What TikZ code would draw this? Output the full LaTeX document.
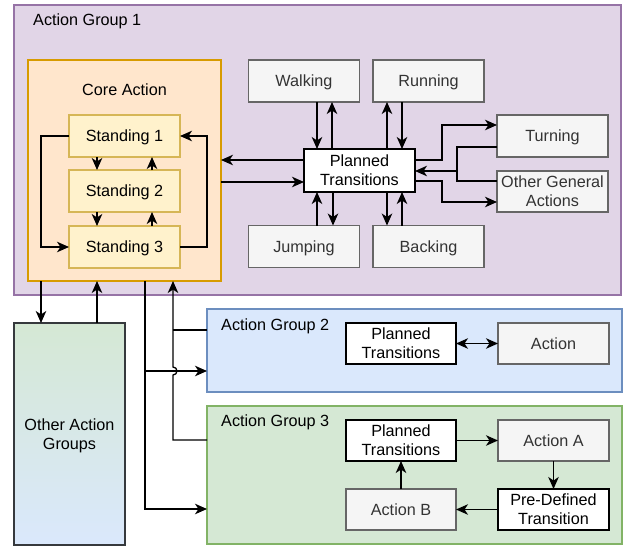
\documentclass[tikz,border=0pt]{standalone}
\usepackage{fontspec}
\setmainfont{Liberation Sans}
\usetikzlibrary{arrows.meta}

\definecolor{grpAfill}{HTML}{E1D5E7}
\definecolor{grpAline}{HTML}{9673A6}
\definecolor{corefill}{HTML}{FFE6CC}
\definecolor{coreline}{HTML}{D79B00}
\definecolor{standfill}{HTML}{FFF2CC}
\definecolor{standline}{HTML}{D6B656}
\definecolor{actfill}{HTML}{F5F5F5}
\definecolor{actline}{HTML}{666666}
\definecolor{acttext}{HTML}{333333}
\definecolor{grpBfill}{HTML}{DAE8FC}
\definecolor{grpBline}{HTML}{6C8EBF}
\definecolor{grpCfill}{HTML}{D5E8D4}
\definecolor{grpCline}{HTML}{82B366}
\definecolor{otherline}{HTML}{36393D}

% line strut: keeps every text line the same height and depth
\newcommand\tstrut{\rule[-3.8pt]{0pt}{19pt}}

\tikzset{
  base/.style={draw, line width=1.1pt, inner sep=0pt, outer sep=0pt, align=center,
    font=\fontsize{16.2}{19}\selectfont},
  grpbox/.style={base},
  standbox/.style={base, fill=standfill, draw=standline, minimum width=111pt, minimum height=42pt},
  actbox/.style={base, fill=actfill, draw=actline, text=acttext, minimum width=111pt, minimum height=42pt},
  transbox/.style={base, fill=white, draw=black, minimum width=111pt, minimum height=42pt},
  lbl/.style={inner sep=0pt, font=\fontsize{16.2}{19}\selectfont},
  conn/.style={line width=1.3pt, draw=black},
  arr/.style={conn, -{Stealth[length=12pt, width=10.5pt, inset=3.5pt]}},
  arrboth/.style={conn, {Stealth[length=12pt, width=10.5pt, inset=3.5pt]}-{Stealth[length=12pt, width=10.5pt, inset=3.5pt]}},
}

\begin{document}
\begin{tikzpicture}[x=1pt, y=-1pt]
\useasboundingbox (0,0) rectangle (636,546);

% ---- containers ----
\node[grpbox, fill=grpAfill, draw=grpAline, minimum width=607pt, minimum height=290pt] (ag1) at (317.5,150) {};
\node[lbl, anchor=west] (ag1lbl) at (33,19.3) {\tstrut Action Group 1};
\node[grpbox, fill=corefill, draw=coreline, minimum width=193pt, minimum height=221pt] (core) at (124.5,170.5) {};
\node[lbl] (corelbl) at (124.5,89.3) {\tstrut Core Action};
\node[grpbox, fill=grpBfill, draw=grpBline, minimum width=415pt, minimum height=83pt] (ag2) at (414.5,350.5) {};
\node[lbl, anchor=west] (ag2lbl) at (221,324.3) {\tstrut Action Group 2};
\node[grpbox, fill=grpCfill, draw=grpCline, minimum width=415pt, minimum height=138pt] (ag3) at (414.5,475) {};
\node[lbl, anchor=west] (ag3lbl) at (221,420.5) {\tstrut Action Group 3};
\node[base, draw=otherline, top color=grpCfill, bottom color=grpBfill,
      minimum width=111pt, minimum height=222pt] (oag) at (69.5,434) {\tstrut Other Action\\\tstrut Groups};

% ---- core action states ----
\node[standbox] (s1) at (124.5,136) {\tstrut Standing 1};
\node[standbox] (s2) at (124.5,191) {\tstrut Standing 2};
\node[standbox] (s3) at (124.5,247) {\tstrut Standing 3};

% ---- general actions ----
\node[transbox, minimum height=43pt] (pt1) at (359.5,170.5) {\tstrut Planned\\\tstrut Transitions};
\node[actbox] (walk) at (304,81) {\tstrut Walking};
\node[actbox] (run) at (428.5,81) {\tstrut Running};
\node[actbox] (jump) at (304,246.5) {\tstrut Jumping};
\node[actbox] (back) at (428.5,246.5) {\tstrut Backing};
\node[actbox] (turn) at (552.5,136) {\tstrut Turning};
\node[actbox, minimum height=41pt] (oga) at (552.5,191.5) {\tstrut Other General\\\tstrut Actions};

% ---- group 2 ----
\node[transbox, minimum width=110pt, minimum height=41pt] (pt2) at (401,343.5) {\tstrut Planned\\\tstrut Transitions};
\node[actbox, minimum height=41pt] (act) at (553.5,343.5) {\tstrut Action};

% ---- group 3 ----
\node[transbox, minimum width=110pt, minimum height=41pt] (pt3) at (401,440.5) {\tstrut Planned\\\tstrut Transitions};
\node[actbox, minimum height=41pt] (actA) at (553.5,440.5) {\tstrut Action A};
\node[actbox, minimum width=110pt, minimum height=41pt] (actB) at (401,509.5) {\tstrut Action B};
\node[transbox, minimum height=41pt] (pdt) at (553.5,509.5) {\tstrut Pre-Defined\\\tstrut Transition};

% ---- standing transitions ----
\draw[arr] (97,0 |- s1.south) -- (97,0 |- s2.north);
\draw[arr] (152,0 |- s2.north) -- (152,0 |- s1.south);
\draw[arr] (97,0 |- s2.south) -- (97,0 |- s3.north);
\draw[arr] (152,0 |- s3.north) -- (152,0 |- s2.south);
\draw[arr] (s1.west) -- ++(-28,0) |- (s3.west);
\draw[arr] (s3.east) -- ++(27,0) |- (s1.east);

% ---- core <-> planned transitions ----
\draw[arr] (pt1.west |- 0,160) -- (core.east |- 0,160);
\draw[arr] (core.east |- 0,182) -- (pt1.west |- 0,182);

% ---- planned transitions <-> general actions ----
\draw[arr] (317,0 |- walk.south) -- (317,0 |- pt1.north);
\draw[arr] (332,0 |- pt1.north) -- (332,0 |- walk.south);
\draw[arr] (387,0 |- pt1.north) -- (387,0 |- run.south);
\draw[arr] (402,0 |- run.south) -- (402,0 |- pt1.north);
\draw[arr] (317,0 |- jump.north) -- (317,0 |- pt1.south);
\draw[arr] (333,0 |- pt1.south) -- (333,0 |- jump.north);
\draw[arr] (387,0 |- pt1.south) -- (387,0 |- back.north);
\draw[arr] (402,0 |- back.north) -- (402,0 |- pt1.south);
\draw[arr] (pt1.east |- 0,160) -| (442,125) -- (turn.west |- 0,125);
\draw[arr] (turn.west |- 0,147) -| (457,171) -- (pt1.east |- 0,171);
\draw[conn] (oga.west |- 0,181) -| (457,171);
\draw[arr] (pt1.east |- 0,181) -| (442,202) -- (oga.west |- 0,202);

% ---- links between groups ----
\draw[arr] (41,0 |- core.south) -- (41,0 |- oag.north);
\draw[arr] (97,0 |- oag.north) -- (97,0 |- core.south);
\draw[arr] (145,0 |- core.south) |- (ag3.west |- 0,509);
\draw[arr] (145,371) -- (ag2.west |- 0,371);
\draw[arr] (ag3.west |- 0,440) -- (173,440) -- (173,375)
   arc[start angle=-90, end angle=90, radius=4pt] -- (173,0 |- core.south);
\draw[conn] (ag2.west |- 0,330) -- (173,330);

% ---- inside group 2 ----
\draw[arrboth] (pt2) -- (act);

% ---- inside group 3 ----
\draw[arr] (pt3) -- (actA);
\draw[arr] (actA) -- (pdt);
\draw[arr] (pdt) -- (actB);
\draw[arr] (actB) -- (pt3);
\end{tikzpicture}
\end{document}
